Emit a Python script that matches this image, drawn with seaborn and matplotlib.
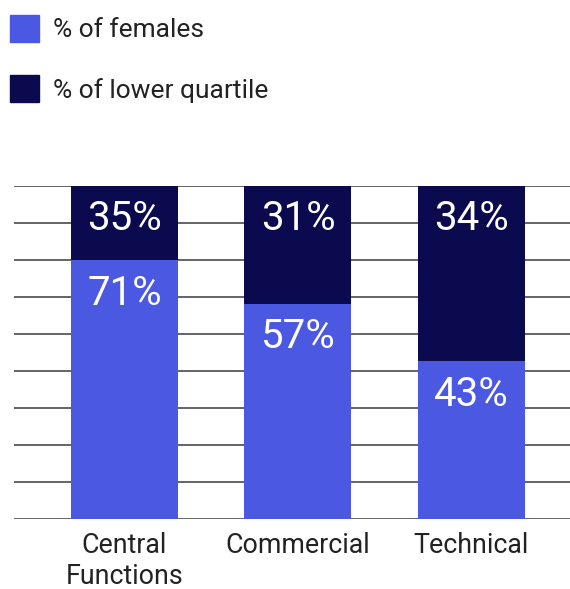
import numpy as np
import pandas as pd
import matplotlib
matplotlib.use("Agg")
import matplotlib.pyplot as plt
import seaborn as sns
from matplotlib.patches import Patch

# data
categories = ["Central\nFunctions", "Commercial", "Technical"]
female_labels = [71, 57, 43]          # printed in the light segment
quartile_labels = [35, 31, 34]        # printed in the dark segment
female_height = [77.6, 64.6, 47.3]    # drawn height of the light segment
total_height = [100, 100, 100]        # full stacked bar

BLUE = "#4b58e2"
NAVY = "#0c0a4e"

df = pd.DataFrame({"category": categories,
                   "female": female_height,
                   "total": total_height})

sns.set_theme(style="white")
plt.rcParams["font.family"] = ["Roboto", "DejaVu Sans"]

fig = plt.figure(figsize=(5.7, 5.89), dpi=100)
ax = fig.add_axes([14.3 / 570, 70.5 / 589, 1 - 14.3 / 570, 332.8 / 589])

# gridlines behind the bars
for y in np.linspace(0, 100, 10):
    ax.axhline(y, color="#3a3a3a", lw=1.1, zorder=0)

sns.barplot(data=df, x="category", y="total", color=NAVY, width=0.617,
            saturation=1, linewidth=0, ax=ax, zorder=2)
sns.barplot(data=df, x="category", y="female", color=BLUE, width=0.617,
            saturation=1, linewidth=0, ax=ax, zorder=3)

for i, (f, q) in enumerate(zip(female_labels, quartile_labels)):
    ax.annotate(f"{q}%", (i, total_height[i]), xytext=(0, -33),
                textcoords="offset pixels", ha="center", va="center",
                color="white", fontsize=29, zorder=5)
    ax.annotate(f"{f}%", (i, female_height[i]), xytext=(0, -33),
                textcoords="offset pixels", ha="center", va="center",
                color="white", fontsize=29, zorder=5)

ax.set_xlim(-0.635, 2.568)
ax.set_ylim(0, 100)
ax.set_xlabel("")
ax.set_ylabel("")
ax.set_yticks([])
ax.tick_params(axis="x", length=0, pad=10, labelsize=19.3, labelcolor="#222222")
for lab in ax.get_xticklabels():
    lab.set_linespacing(1.15)
for s in ax.spines.values():
    s.set_visible(False)

handles = [Patch(color=BLUE, label="% of females"),
           Patch(color=NAVY, label="% of lower quartile")]
fig.legend(handles=handles, loc="upper left", bbox_to_anchor=(0, 1 - 5 / 589),
           frameon=False, fontsize=19, labelcolor="#222222",
           handlelength=1.1, handleheight=1.2, handletextpad=0.53,
           labelspacing=1.25, borderaxespad=0.25, borderpad=0.12)

fig.savefig("out.png", dpi=100)
